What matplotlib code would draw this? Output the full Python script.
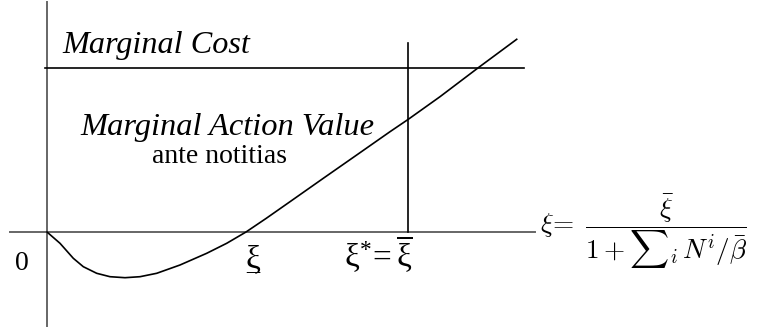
import matplotlib
matplotlib.use("Agg")
import matplotlib.pyplot as plt

# Marginal action value curve (ante notitias)
xi_vals = [0.0, 0.13, 0.263, 0.363, 0.497, 0.63, 0.78, 0.93, 1.097, 1.33, 1.597, 1.797,
           1.99, 2.19, 2.43, 2.763, 3.097, 3.43, 3.613, 3.93, 4.313, 4.697]
mav_vals = [0.0, -0.113, -0.263, -0.347, -0.413, -0.447, -0.457, -0.447, -0.413, -0.33, -0.213, -0.113,
            0.0, 0.135, 0.303, 0.537, 0.77, 1.003, 1.127, 1.353, 1.643, 1.927]

marginal_cost = 1.643
cost_x_range = [-0.02, 4.77]
xi_star = 3.61
xi_star_top = 1.89
xi_low = 1.99

x_axis_range = [-0.37, 4.88]
y_axis_range = [-0.94, 2.30]

plt.rcParams['mathtext.fontset'] = 'custom'
plt.rcParams['mathtext.rm'] = 'Liberation Serif'
plt.rcParams['mathtext.it'] = 'Liberation Serif:italic'
serif = ['Liberation Serif', 'DejaVu Serif']

fig = plt.figure(figsize=(7.58, 3.31), dpi=100)
ax = fig.add_axes([0, 0, 1, 1])
ax.set_xlim(-0.47, 7.11)
ax.set_ylim(-0.99, 2.32)
ax.axis('off')

axis_color = '#666666'
ax.plot(x_axis_range, [0, 0], color=axis_color, lw=1.4)
ax.plot([0, 0], y_axis_range, color=axis_color, lw=1.4)

ax.plot(cost_x_range, [marginal_cost, marginal_cost], color='black', lw=1.2)
ax.plot([xi_star, xi_star], [0, xi_star_top], color='black', lw=1.2)
ax.plot(xi_vals, mav_vals, color='black', lw=1.2)

ax.text(0.15, 1.79, 'Marginal Cost', family=serif, style='italic', fontsize=23.2, ha='left', va='baseline')
ax.text(1.805, 0.97, 'Marginal Action Value', family=serif, style='italic', fontsize=23.4, ha='center', va='baseline')
ax.text(1.725, 0.69, 'ante notitias', family=serif, fontsize=20, ha='center', va='baseline')

ax.text(-0.25, -0.38, '0', family=serif, fontsize=20, ha='center', va='baseline')

# underlined xi (lower bound)
ax.text(xi_low + 0.07, -0.36, '\u03be', family=serif, fontsize=24, ha='center', va='baseline')
ax.text(xi_low + 0.07, -0.37, '_', family=serif, fontsize=19, ha='center', va='baseline')

# xi* = overline xi
ax.text(xi_star - 0.30, -0.36, r'$\mathrm{\xi}^{*}\!=\overline{\mathrm{\xi}}$', fontsize=24, ha='center', va='baseline')

ax.text(4.93, 0.0, r'$\xi\!=\;\dfrac{\bar{\xi}}{1+{\sum}_i\, N^i/\bar{\beta}}$', fontsize=19.6,
        math_fontfamily='cm', ha='left', va='center')

fig.savefig('out.png', dpi=100)
